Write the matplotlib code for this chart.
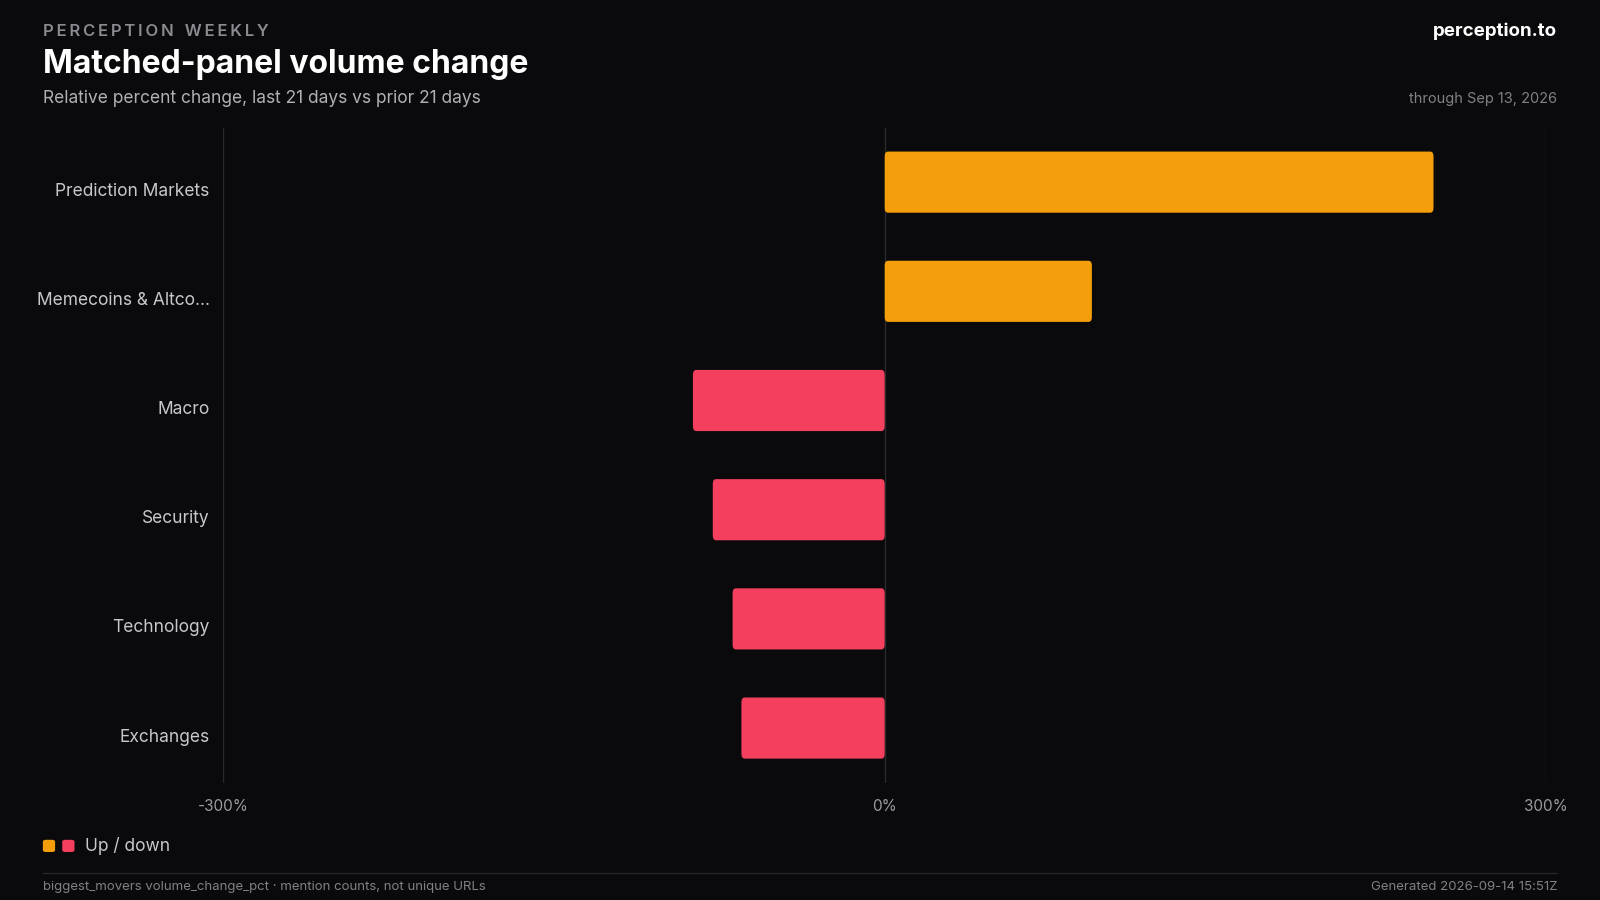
import matplotlib
matplotlib.use("Agg")
import matplotlib.pyplot as plt
import matplotlib.transforms as mtrans
from matplotlib.patches import FancyBboxPatch

categories = ["Prediction Markets", "Memecoins & Altco...", "Macro", "Security", "Technology", "Exchanges"]
values = [249, 94, -87, -78, -69, -65]
xticks = [-300, 0, 300]
xticklabels = ["-300%", "0%", "300%"]

BG = "#0a0a0c"
UP = "#f59e0b"
DOWN = "#f43f5e"
plt.rcParams['font.family'] = ['Inter', 'DejaVu Sans']

W, H = 1568, 882
fig = plt.figure(figsize=(16, 9), dpi=100, facecolor=BG)
ax = fig.add_axes([219/W, 1-767/H, (1515-219)/W, (767-125)/H], facecolor=BG)
ax.set_xlim(-300, 300)
n = len(categories)
ax.set_ylim(n - 0.5, -0.5)
for i, v in enumerate(values):
    c = UP if v > 0 else DOWN
    x0 = min(0, v)
    p = FancyBboxPatch((x0, i - 0.28), abs(v), 0.56,
                       boxstyle="round,pad=0,rounding_size=1.5", mutation_aspect=0.03,
                       fc=c, ec="none", zorder=3)
    ax.add_patch(p)
for x in xticks:
    ax.axvline(x, color="#2a2a2e", lw=1, zorder=1)
ax.set_xticks(xticks)
ax.set_xticklabels(xticklabels, color="#9a9aa0", fontsize=11)
ax.set_yticks(range(n))
ax.set_yticklabels(categories, color="#c8c8cc", fontsize=12.5)
ax.tick_params(axis='y', length=0, pad=10)
ax.tick_params(axis='x', length=0, pad=12)
off = mtrans.ScaledTranslation(0, -0.07, fig.dpi_scale_trans)
for lab in ax.get_yticklabels():
    lab.set_transform(lab.get_transform() + off)
for s in ax.spines.values():
    s.set_visible(False)

fig.text(42/W, 1-31/H, "\u2009".join("PERCEPTION WEEKLY").replace("\u2009 \u2009", "\u2009\u2009\u2009\u2009"),
         color="#8a8a90", fontsize=12, va="center", fontweight="semibold")
fig.text(42/W, 1-63/H, "Matched-panel volume change", color="white", fontsize=23, va="center", fontweight="bold")
fig.text(42/W, 1-97/H, "Relative percent change, last 21 days vs prior 21 days", color="#b0b0b5", fontsize=12.5, va="center")
fig.text(1526/W, 1-31/H, "perception.to", color="white", fontsize=13.5, va="center", ha="right", fontweight="bold")
fig.text(1526/W, 1-97/H, "through Sep 13, 2026", color="#808086", fontsize=10.5, va="center", ha="right")

fig.patches.append(FancyBboxPatch((42/W, 1-835/H), 12/W, 12/H, boxstyle="round,pad=0,rounding_size=0.002",
                                  fc=UP, ec="none", transform=fig.transFigure))
fig.patches.append(FancyBboxPatch((61/W, 1-835/H), 12/W, 12/H, boxstyle="round,pad=0,rounding_size=0.002",
                                  fc=DOWN, ec="none", transform=fig.transFigure))
fig.text(83/W, 1-829/H, "Up / down", color="#c8c8cc", fontsize=12.5, va="center")
fig.add_artist(plt.Line2D([42/W, 1526/W], [1-856/H, 1-856/H], color="#26262a", lw=1))
fig.text(42/W, 1-869/H, "biggest_movers volume_change_pct · mention counts, not unique URLs", color="#808086", fontsize=9.5, va="center")
fig.text(1526/W, 1-869/H, "Generated 2026-09-14 15:51Z", color="#808086", fontsize=9.5, va="center", ha="right")

fig.savefig("out.png", dpi=100, facecolor=BG)
